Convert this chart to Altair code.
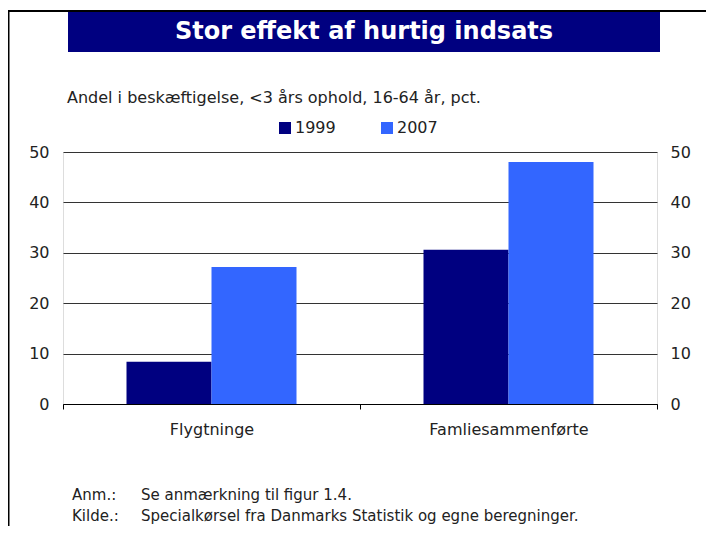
import altair as alt
import pandas as pd

# ---- data ----
categories = ["Flygtninge", "Famliesammenførte"]
years = ["1999", "2007"]
values_1999 = [8.4, 30.6]
values_2007 = [27.2, 48.0]
colors = ["#000080", "#3366FF"]
y_ticks = [0, 10, 20, 30, 40, 50]

title_text = "Stor effekt af hurtig indsats"
subtitle_text = "Andel i beskæftigelse, <3 års ophold, 16-64 år, pct."
note_labels = ["Anm.:", "Kilde.:"]
note_texts = ["Se anmærkning til figur 1.4.",
              "Specialkørsel fra Danmarks Statistik og egne beregninger."]

FONT = "DejaVu Sans"
TXT = "#222222"

rows = []
for c, v1, v2 in zip(categories, values_1999, values_2007):
    rows.append({"Kategori": c, "År": years[0], "Værdi": v1})
    rows.append({"Kategori": c, "År": years[1], "Værdi": v2})
df = pd.DataFrame(rows)

W, H = 594, 252

x_enc = alt.X("Kategori:N", sort=categories, title=None,
              scale=alt.Scale(paddingInner=0, paddingOuter=0),
              axis=alt.Axis(labelAngle=0, labelFontSize=16, labelFont=FONT, labelColor=TXT,
                            labelPadding=12, domainColor="black", domainWidth=1,
                            tickBand="extent", tickSize=5, tickColor="black", grid=False))

bars = alt.Chart(df).mark_bar().encode(
    x=x_enc,
    xOffset=alt.XOffset("År:N", sort=years,
                        scale=alt.Scale(paddingInner=0, paddingOuter=0.747)),
    y=alt.Y("Værdi:Q", title=None,
            scale=alt.Scale(domain=[0, 50], nice=False),
            axis=alt.Axis(values=y_ticks, orient="left", domain=False, ticks=False,
                          labelFontSize=16, labelFont=FONT, labelColor=TXT, labelPadding=14,
                          grid=True, gridColor="#333333", gridWidth=1)),
    color=alt.Color("År:N", sort=years,
                    scale=alt.Scale(domain=years, range=colors),
                    legend=alt.Legend(title=None, orient="none", legendX=214, legendY=-32,
                                      direction="horizontal", symbolType="square",
                                      symbolSize=144, symbolStrokeWidth=0,
                                      labelFontSize=16, labelFont=FONT, labelColor=TXT,
                                      labelOffset=2, columnPadding=43, padding=0)),
)

right_axis = alt.Chart(df).mark_bar(opacity=0).encode(
    x=alt.X("Kategori:N", sort=categories),
    xOffset=alt.XOffset("År:N", sort=years),
    y=alt.Y("Værdi:Q", title=None,
            scale=alt.Scale(domain=[0, 50], nice=False),
            axis=alt.Axis(values=y_ticks, orient="right", domain=False, ticks=False,
                          labelFontSize=16, labelFont=FONT, labelColor=TXT, labelPadding=13,
                          grid=False)),
)

one = pd.DataFrame({"t": [title_text]})

title_box = alt.Chart(one).mark_rect(color="#000080").encode(
    x=alt.value(5), x2=alt.value(597), y=alt.value(-140), y2=alt.value(-100))
title_mark = alt.Chart(one).mark_text(
    font=FONT, fontSize=24, fontWeight="bold", color="white", align="center", baseline="middle"
).encode(x=alt.value(301), y=alt.value(-120), text="t:N")

top_border = alt.Chart(one).mark_rule(color="black", strokeWidth=2).encode(
    x=alt.value(-56), x2=alt.value(660), y=alt.value(-141))
left_border = alt.Chart(one).mark_rule(color="black", strokeWidth=2).encode(
    x=alt.value(-54.5), y=alt.value(-141), y2=alt.value(380))

sub = alt.Chart(pd.DataFrame({"t": [subtitle_text]})).mark_text(
    font=FONT, fontSize=16, color=TXT, align="left", baseline="middle"
).encode(x=alt.value(4), y=alt.value(-54), text="t:N")

note_l1 = alt.Chart(pd.DataFrame({"t": [note_labels[0]]})).mark_text(
    font=FONT, fontSize=15, color=TXT, align="left", baseline="middle"
).encode(x=alt.value(9), y=alt.value(343), text="t:N")
note_t1 = alt.Chart(pd.DataFrame({"t": [note_texts[0]]})).mark_text(
    font=FONT, fontSize=15, color=TXT, align="left", baseline="middle"
).encode(x=alt.value(78), y=alt.value(343), text="t:N")
note_l2 = alt.Chart(pd.DataFrame({"t": [note_labels[1]]})).mark_text(
    font=FONT, fontSize=15, color=TXT, align="left", baseline="middle"
).encode(x=alt.value(9), y=alt.value(364), text="t:N")
note_t2 = alt.Chart(pd.DataFrame({"t": [note_texts[1]]})).mark_text(
    font=FONT, fontSize=15, color=TXT, align="left", baseline="middle"
).encode(x=alt.value(78), y=alt.value(364), text="t:N")

chart = alt.layer(
    bars, right_axis, title_box, title_mark, top_border, left_border, sub,
    note_l1, note_t1, note_l2, note_t2
).resolve_scale(y="independent").properties(
    width=W, height=H,
    autosize=alt.AutoSizeParams(type="none"),
    padding={"left": 55, "top": 144, "right": 49, "bottom": 122},
).configure_view(stroke=None).configure(background="white")

chart.save("out.html", embed_options={"renderer": "svg", "actions": False})
